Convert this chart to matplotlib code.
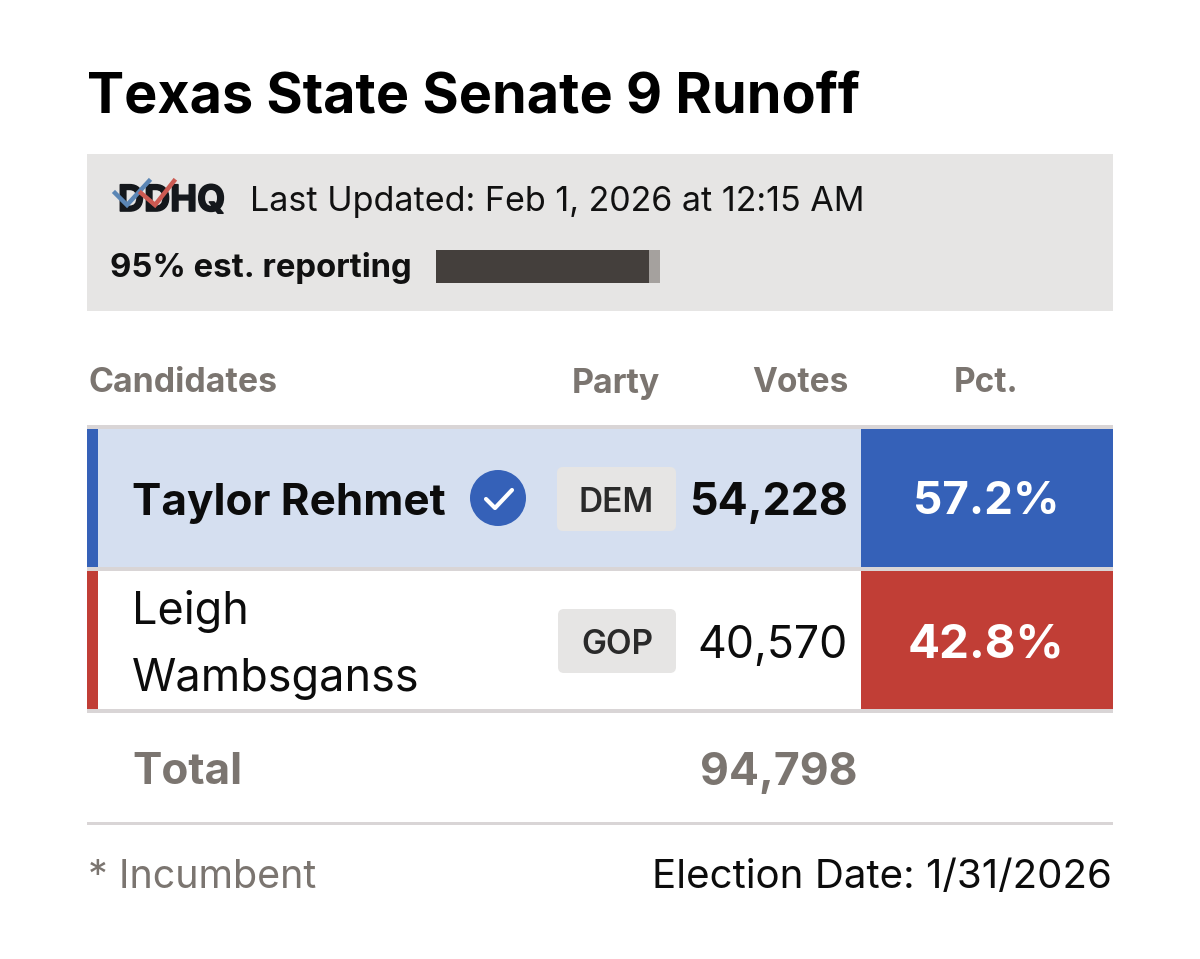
#!/usr/bin/env python3
"""Texas State Senate 9 runoff results card, laid out in pixel coordinates."""

import matplotlib

matplotlib.use("Agg")
import matplotlib.patheffects as pe
import matplotlib.pyplot as plt
from matplotlib.patches import Circle, FancyBboxPatch, Rectangle

plt.rcParams["font.family"] = ["Inter", "DejaVu Sans"]

TITLE = "Texas State Senate 9 Runoff"
UPDATED = "Last Updated: Feb 1, 2026 at 12:15 AM"
REPORTING_PCT = 95
COLUMNS = ["Candidates", "Party", "Votes", "Pct."]
CANDIDATES = ["Taylor Rehmet", "Leigh\nWambsganss"]
PARTIES = ["DEM", "GOP"]
VOTES = [54228, 40570]
PCTS = [57.2, 42.8]
TOTAL_VOTES = 94798
ELECTION_DATE = "1/31/2026"

BLUE = "#3561b8"
RED = "#c13e36"
LIGHT_BLUE = "#d5dff0"
GREY_BG = "#e6e5e4"
RULE = "#d9d5d6"
MUTED = "#7b7570"
DARK = "#443f3c"

fig = plt.figure(figsize=(12, 9.59), dpi=100)
ax = fig.add_axes([0, 0, 1, 1])
ax.set_xlim(0, 1200)
ax.set_ylim(959, 0)
ax.axis("off")


def box(x0, y0, x1, y1, color, **kw):
    ax.add_patch(Rectangle((x0, y0), x1 - x0, y1 - y0, fc=color, ec="none", **kw))


def badge(x0, y0, x1, y1, color):
    ax.add_patch(FancyBboxPatch((x0 + 6, y0 + 6), x1 - x0 - 12, y1 - y0 - 12,
                                boxstyle="round,pad=6,rounding_size=6",
                                fc=color, ec="none"))


# header
ax.text(87, 92, TITLE, fontsize=40.1, fontweight="bold", color="black", va="center_baseline")
box(87, 154, 1113, 311, GREY_BG)

# DDHQ logo with its two tick marks
logo = ax.text(118, 198, "DDHQ", fontsize=26, fontweight="bold", color="#15181c", va="center_baseline")
logo.set_path_effects([pe.withStroke(linewidth=1.2, foreground="#15181c")])
ax.plot([115, 127, 149], [193, 205, 181], color="#5b86b5", lw=3.2, solid_joinstyle="miter", zorder=5)
ax.plot([141, 155, 174], [193, 205, 181], color="#cc5a52", lw=3.2, solid_joinstyle="miter", zorder=5)

ax.text(250, 198, UPDATED, fontsize=24.5, color="#111111", va="center_baseline")
ax.text(110, 265, f"{REPORTING_PCT}% est. reporting", fontsize=23.7, fontweight="bold",
        color="#111111", va="center_baseline")

# reporting bar: full width is 100%
bar_x, bar_w = 436, 224
box(bar_x, 250, bar_x + bar_w, 283, "#a5a19e")
box(bar_x, 250, bar_x + bar_w * REPORTING_PCT / 100, 283, DARK)

# column headers
col_y = 380
ax.text(89, col_y, COLUMNS[0], fontsize=24.4, fontweight="bold", color=MUTED, va="center_baseline")
ax.text(616, col_y, COLUMNS[1], fontsize=24.4, fontweight="bold", color=MUTED, ha="center", va="center_baseline")
ax.text(848, col_y, COLUMNS[2], fontsize=24, fontweight="bold", color=MUTED, ha="right", va="center_baseline")
ax.text(986, col_y, COLUMNS[3], fontsize=24, fontweight="bold", color=MUTED, ha="center", va="center_baseline")

# table rows
row_tops = [429, 571]
row_bottoms = [567, 709]
stripes = [BLUE, RED]
row_bgs = [LIGHT_BLUE, "white"]
box(87, 425, 1113, 429, RULE)
box(87, 567, 1113, 571, RULE)
box(87, 709, 1113, 713, RULE)

pct_sizes = [33, 34.2]
for i, name in enumerate(CANDIDATES):
    top, bot = row_tops[i], row_bottoms[i]
    mid = (top + bot) / 2
    winner = i == 0
    weight = "bold" if winner else "normal"
    box(87, top, 861, bot, row_bgs[i])
    box(87, top, 98, bot, stripes[i])
    box(861, top, 1113, bot, stripes[i])
    if winner:
        ax.text(132, mid + 1, name, fontsize=31.7, fontweight="bold", color="#0c0c0c", va="center_baseline")
    else:
        for line, y in zip(name.split("\n"), (607, 675)):
            ax.text(132, y, line, fontsize=32.4, color="#0c0c0c", va="center_baseline")
    # party badge
    bx0, bx1 = (557, 676) if winner else (558, 676)
    badge(bx0, mid + 1 - 32, bx1, mid + 1 + 32, GREY_BG)
    ax.text((bx0 + bx1) / 2, mid + 2, PARTIES[i], fontsize=24, fontweight="semibold", color="#2a2a2a",
            ha="center", va="center_baseline")
    ax.text(848, mid + 1, f"{VOTES[i]:,}", fontsize=32.1, fontweight=weight, color="#0c0c0c",
            ha="right", va="center_baseline")
    ax.text(986, mid - 1 if winner else mid + 1, f"{PCTS[i]}%", fontsize=pct_sizes[i], fontweight="bold",
            color="white", ha="center", va="center_baseline")

# winner check mark
ax.add_patch(Circle((498, 498), 28, fc=BLUE, ec="none"))
ax.plot([486, 495, 512], [499, 508, 490], color="white", lw=3.0, solid_capstyle="round",
        solid_joinstyle="round")

# totals
ax.text(132, 768, "Total", fontsize=31.7, fontweight="bold", color=MUTED, va="center_baseline")
ax.text(857, 768, f"{TOTAL_VOTES:,}", fontsize=32, fontweight="bold", color=MUTED, ha="right",
        va="center_baseline")
box(87, 822, 1113, 825, RULE)

# footer
ax.text(88, 874, "* Incumbent", fontsize=28.4, color=MUTED, va="center_baseline")
ax.text(1112, 874, f"Election Date: {ELECTION_DATE}", fontsize=29, color="#0c0c0c", ha="right",
        va="center_baseline")

fig.savefig("out.png", dpi=100)
